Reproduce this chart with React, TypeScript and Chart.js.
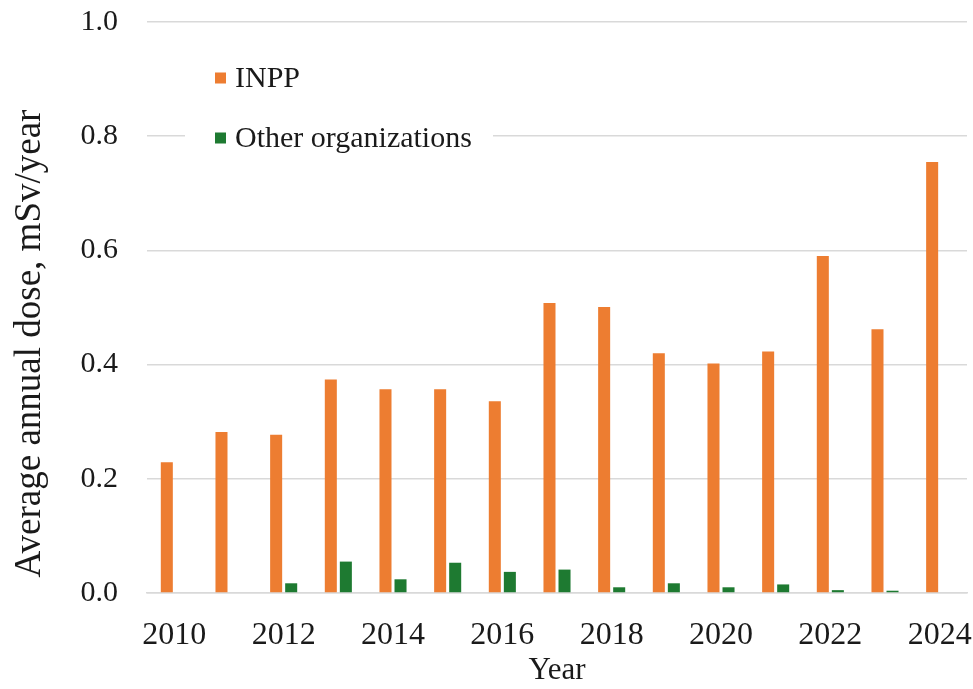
import React, { useEffect, useRef } from 'react';
import { Chart, registerables } from 'chart.js';

Chart.register(...registerables);

const years = ['2010', '2011', '2012', '2013', '2014', '2015', '2016', '2017', '2018', '2019', '2020', '2021', '2022', '2023', '2024'];
const inppDose = [0.229, 0.282, 0.277, 0.374, 0.357, 0.357, 0.336, 0.508, 0.501, 0.420, 0.402, 0.423, 0.590, 0.462, 0.755];
const otherDose = [null, null, 0.017, 0.055, 0.024, 0.053, 0.037, 0.041, 0.010, 0.017, 0.010, 0.015, 0.005, 0.004, null];
const seriesNames = ['INPP', 'Other organizations'];
const seriesColors = ['#ED7D31', '#1E7A31'];
const yMin = 0;
const yMax = 1.0;
const yStep = 0.2;
const xTitle = 'Year';
const yTitle = 'Average annual dose, mSv/year';

const FONT = '"Liberation Serif", "Times New Roman", serif';
const TEXT = '#1a1a1a';
const GRID = '#d9d9d9';

const insideLegend = {
  id: 'insideLegend',
  beforeDatasetsDraw(chart: any) {
    const { ctx, chartArea } = chart;
    const x0 = chartArea.left + 38;
    const y0 = chartArea.top + 56;
    const rowGap = 60;
    ctx.save();
    ctx.fillStyle = '#ffffff';
    ctx.fillRect(x0, y0 - 28, 308, rowGap + 56);
    ctx.font = `30px ${FONT}`;
    ctx.textBaseline = 'middle';
    ctx.textAlign = 'left';
    seriesNames.forEach((name, i) => {
      const cy = y0 + i * rowGap;
      ctx.fillStyle = seriesColors[i];
      ctx.fillRect(x0 + 30, cy - 5.5, 11, 11);
      ctx.fillStyle = TEXT;
      ctx.fillText(name, x0 + 50, cy + 1);
    });
    ctx.restore();
  },
};

const yAxisTitle = {
  id: 'yAxisTitle',
  afterDraw(chart: any) {
    const { ctx, chartArea } = chart;
    ctx.save();
    ctx.translate(30, (chartArea.top + chartArea.bottom) / 2 + 36);
    ctx.rotate(-Math.PI / 2);
    ctx.font = `37px ${FONT}`;
    ctx.fillStyle = TEXT;
    ctx.textAlign = 'center';
    ctx.textBaseline = 'middle';
    ctx.fillText(yTitle, 0, 0);
    ctx.restore();
  },
};

export default function App() {
  const canvasRef = useRef<HTMLCanvasElement | null>(null);

  useEffect(() => {
    document.body.style.margin = '0';
    const canvas = canvasRef.current;
    if (!canvas) return;
    const chart = new Chart(canvas, {
      type: 'bar',
      data: {
        labels: years,
        datasets: [
          {
            label: seriesNames[0],
            data: inppDose,
            backgroundColor: seriesColors[0],
            categoryPercentage: 0.55,
            barPercentage: 0.8,
          },
          {
            label: seriesNames[1],
            data: otherDose as any,
            backgroundColor: seriesColors[1],
            categoryPercentage: 0.55,
            barPercentage: 0.8,
          },
        ],
      },
      options: {
        responsive: false,
        animation: false,
        devicePixelRatio: 1,
        layout: { padding: 0 },
        plugins: {
          legend: { display: false },
          tooltip: { enabled: false },
        },
        scales: {
          x: {
            grid: { display: false, drawTicks: false },
            border: { display: true, color: GRID, width: 1.5 },
            ticks: {
              autoSkip: false,
              maxRotation: 0,
              padding: 23,
              color: TEXT,
              font: { family: FONT, size: 32 },
              callback: (_v: any, i: number) => (i % 2 === 0 ? years[i] : ''),
            },
            title: {
              display: true,
              text: xTitle,
              color: TEXT,
              font: { family: FONT, size: 31 },
              padding: { top: 0, bottom: 0 },
            },
            afterFit: (scale: any) => {
              scale.height = 96;
              scale.paddingLeft = 0;
              scale.paddingRight = 6;
            },
          },
          y: {
            min: yMin,
            max: yMax,
            grid: { color: GRID, lineWidth: 1.5, drawTicks: false },
            border: { display: false },
            ticks: {
              stepSize: yStep,
              padding: 29,
              color: TEXT,
              font: { family: FONT, size: 30 },
              callback: (v: any) => Number(v).toFixed(1),
            },
            title: { display: false },
            afterFit: (scale: any) => {
              scale.width = 147;
              scale.paddingTop = 22;
              scale.paddingBottom = 0;
            },
          },
        },
      },
      plugins: [insideLegend, yAxisTitle],
    });
    return () => chart.destroy();
  }, []);

  return (
    <div style={{ position: 'absolute', left: 0, top: 0, width: 973, height: 689, background: '#fff' }}>
      <canvas ref={canvasRef} width={973} height={689} />
    </div>
  );
}
